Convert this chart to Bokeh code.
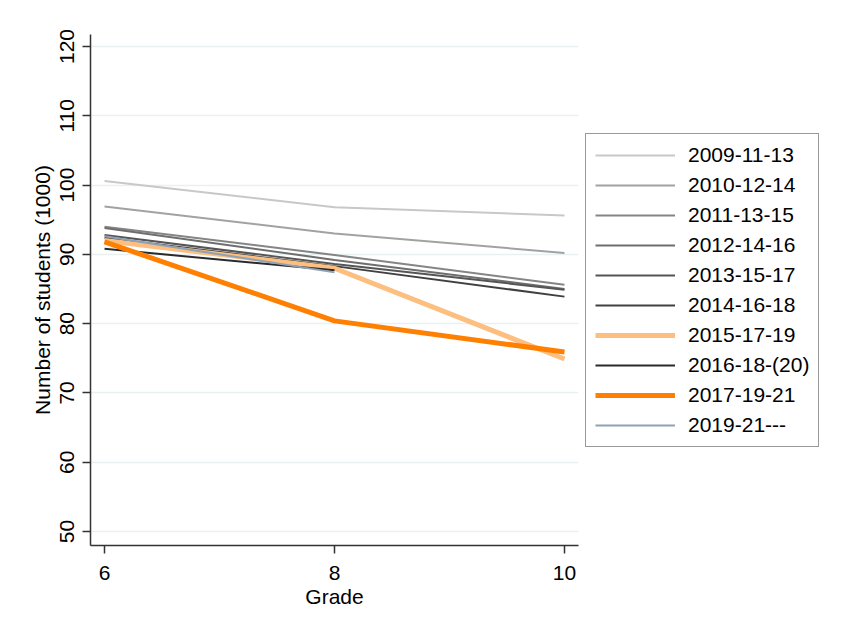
from bokeh.plotting import figure
from bokeh.models import FixedTicker, Legend, LegendItem, Range1d
from bokeh.embed import file_html
from bokeh.resources import INLINE

grades = [6, 8, 10]
cohorts = ["2009-11-13", "2010-12-14", "2011-13-15", "2012-14-16", "2013-15-17",
           "2014-16-18", "2015-17-19", "2016-18-(20)", "2017-19-21", "2019-21---"]
values = [
    [100.6, 96.8, 95.6],
    [96.9, 93.0, 90.2],
    [94.0, 89.9, 85.6],
    [93.8, 89.2, 85.0],
    [92.8, 88.6, 84.9],
    [92.4, 88.3, 83.9],
    [92.0, 88.0, 74.9],
    [90.8, 87.7],
    [91.8, 80.4, 75.9],
    [92.6, 87.4],
]
colors = ["#c8c8c8", "#a2a2a2", "#858585", "#6e6e6e", "#555555",
          "#404040", "#fdbf80", "#2a2a2a", "#ff7f00", "#8fa1b6"]
widths = [2, 2, 2, 2, 2, 2, 5, 2, 5, 2]
y_ticks = [50, 60, 70, 80, 90, 100, 110, 120]

FONT = "Liberation Sans"
FS = "21px"

p = figure(frame_width=488, frame_height=511, output_backend="svg",
           toolbar_location=None,
           x_range=Range1d(5.878, 10.122), y_range=Range1d(47.98, 121.73),
           min_border_left=90, min_border_top=34, min_border_bottom=65,
           min_border_right=0,
           styles={"outline": "2px solid #eef3f3", "outline-offset": "-9px"})
p.outline_line_color = None
p.background_fill_color = "white"
p.border_fill_color = "white"

items = []
for name, vals, c, w in zip(cohorts, values, colors, widths):
    r = p.line(grades[:len(vals)], vals, line_color=c, line_width=w)
    items.append(LegendItem(label=name, renderers=[r]))

p.xgrid.grid_line_color = None
p.ygrid.grid_line_color = "#e8f0f2"
p.ygrid.grid_line_width = 1.5
p.ygrid.ticker = FixedTicker(ticks=y_ticks)

p.xaxis.ticker = FixedTicker(ticks=grades)
p.yaxis.ticker = FixedTicker(ticks=y_ticks)
for ax in (p.xaxis[0], p.yaxis[0]):
    ax.axis_line_color = "#333333"
    ax.axis_line_width = 1.5
    ax.major_tick_line_color = "#333333"
    ax.major_tick_line_width = 1.5
    ax.major_tick_out = 8
    ax.major_tick_in = 0
    ax.minor_tick_line_color = None
    ax.major_label_text_font = FONT
    ax.major_label_text_font_size = FS
    ax.major_label_text_color = "black"
    ax.axis_label_text_font = FONT
    ax.axis_label_text_font_size = FS
    ax.axis_label_text_font_style = "normal"
    ax.axis_label_text_color = "black"

p.xaxis.axis_label = "Grade"
p.xaxis.major_label_standoff = 12
p.xaxis.axis_label_standoff = 2
p.yaxis.axis_label = "Number of students (1000)"
p.yaxis.major_label_orientation = "vertical"
p.yaxis.major_label_standoff = 8
p.yaxis.axis_label_standoff = 4

legend = Legend(items=items, location="center_left", margin=7, padding=9,
                spacing=6, glyph_width=80, glyph_height=20, label_height=20,
                label_standoff=13, label_text_font=FONT, label_text_font_size=FS,
                label_text_color="black", border_line_color="#333333",
                border_line_width=1.5, background_fill_color="white")
p.add_layout(legend, "right")

open("out.html", "w").write(file_html(p, INLINE))
